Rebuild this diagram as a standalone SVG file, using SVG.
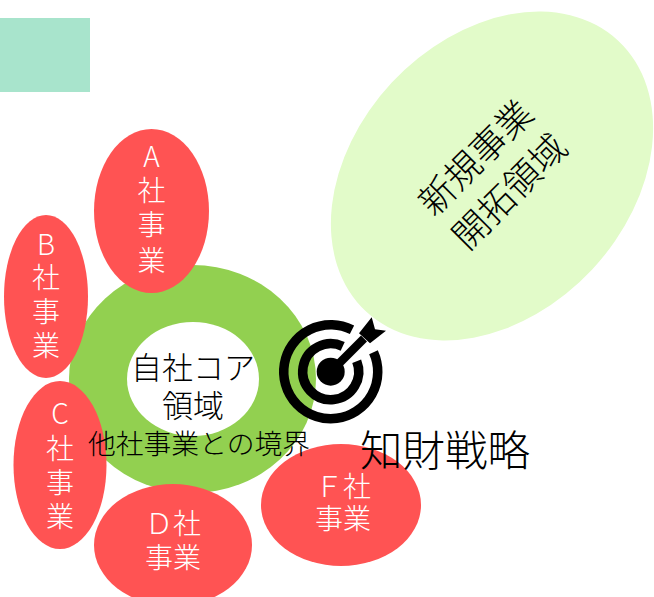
<svg xmlns="http://www.w3.org/2000/svg" width="654" height="597" viewBox="0 0 654 597">
<style>
text{font-family:"Noto Sans CJK JP","Noto Sans CJK SC",sans-serif;font-weight:200;text-anchor:middle;dominant-baseline:central}
.w{fill:#fff;font-size:28px}
.k{fill:#000}
.red{fill:#ff5353}
</style>
<rect width="654" height="597" fill="#fff"/>
<rect id="legend" x="0" y="18" width="90" height="74" fill="#a8e4cc"/>
<g id="new-business">
<ellipse cx="492" cy="176" rx="185" ry="137" transform="rotate(-47 492 176)" fill="#e2fbc9"/>
<text class="k" font-size="36" transform="translate(490.500 172.500) rotate(-45)"><tspan x="0" y="-24">新規事業</tspan><tspan x="0" y="24">開拓領域</tspan></text>
</g>
<g id="core">
<ellipse cx="192.500" cy="379" rx="123.500" ry="114" fill="#92d050"/>
<ellipse cx="193" cy="379" rx="66" ry="57" fill="#fff"/>
</g>
<g id="company-a"><ellipse class="red" cx="151.500" cy="211" rx="57.500" ry="82"/>
<text class="w"><tspan x="151.500" y="155">A</tspan><tspan x="151.500" y="189">社</tspan><tspan x="151.500" y="223">事</tspan><tspan x="151.500" y="259">業</tspan></text></g>
<g id="company-b"><ellipse class="red" cx="46" cy="296.500" rx="42" ry="81.500"/>
<text class="w"><tspan x="46" y="243">B</tspan><tspan x="46" y="276">社</tspan><tspan x="46" y="310">事</tspan><tspan x="46" y="344">業</tspan></text></g>
<g id="company-c"><ellipse class="red" cx="60" cy="465" rx="46.500" ry="84"/>
<text class="w"><tspan x="60" y="412">C</tspan><tspan x="60" y="447">社</tspan><tspan x="60" y="481">事</tspan><tspan x="60" y="515">業</tspan></text></g>
<g id="company-d"><ellipse class="red" cx="173" cy="545" rx="79" ry="61"/>
<text class="w"><tspan x="173" y="522">Ｄ社</tspan><tspan x="173" y="556">事業</tspan></text></g>
<g id="company-f"><ellipse class="red" cx="341" cy="505" rx="80" ry="61"/>
<text class="w"><tspan x="343" y="485">Ｆ社</tspan><tspan x="343" y="517">事業</tspan></text></g>
<g id="core-labels">
<text class="k" font-size="31"><tspan x="193" y="365">自社コア</tspan><tspan x="193" y="403">領域</tspan></text>
<text class="k" font-size="27.800" x="199" y="442">他社事業との境界</text>
</g>
<g id="target">
<path d="M352 329.800A47 47 0 1 0 373.500 352.200M342.700 346.400A28 28 0 1 0 356.700 361.300" fill="none" stroke="#000" stroke-width="9.500"/>
<circle cx="330.700" cy="371.700" r="14"/>
<path d="M328 368.500L361 335.500L367 341.500L334 374.500Z"/>
<path d="M359 333.300L371.700 317.300L375 329.300L386 330.700L370 343.300Z"/>
</g>
<text id="ip-strategy" class="k" font-size="42.500" x="445" y="447">知財戦略</text>
</svg>
